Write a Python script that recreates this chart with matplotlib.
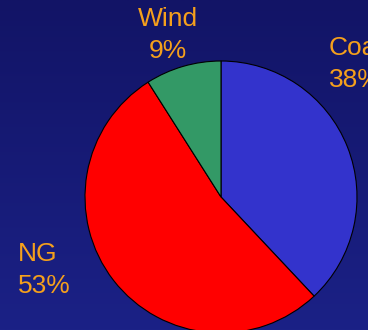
import matplotlib
matplotlib.use("Agg")
import matplotlib.pyplot as plt
import numpy as np
from matplotlib.colors import LinearSegmentedColormap

labels = ["Coal", "NG", "Wind"]
values = [38, 53, 9]
colors = ["#3333cc", "#ff0000", "#339966"]

W, H = 368, 330
fig = plt.figure(figsize=(W / 100, H / 100), dpi=100)
ax = fig.add_axes([0, 0, 1, 1])
ax.set_xlim(0, W)
ax.set_ylim(0, H)
ax.set_aspect("equal")
ax.axis("off")

cmap = LinearSegmentedColormap.from_list("bg", ["#1b2186", "#121466"])
grad = np.linspace(0, 1, 256).reshape(-1, 1)
ax.imshow(grad, cmap=cmap, extent=[0, W, 0, H], origin="lower", aspect="auto", zorder=0)

cx, cy, r = 221, H - 197, 136
ax.pie(values, colors=colors, startangle=90, counterclock=False,
       center=(cx, cy), radius=r, frame=True,
       wedgeprops=dict(edgecolor="black", linewidth=0.8))
ax.set_xlim(0, W)
ax.set_ylim(0, H)
ax.axis("off")

tc = "#f5a01c"
fs = 19
fam = "Liberation Sans"
ls = 1.38
ax.text(168, H - 35, "Wind\n9%", ha="center", va="center", color=tc, fontsize=fs, family=fam, linespacing=ls)
ax.text(329, H - 64, "Coal\n38%", ha="left", va="center", color=tc, fontsize=fs, family=fam, linespacing=ls)
ax.text(18, H - 270, "NG\n53%", ha="left", va="center", color=tc, fontsize=fs, family=fam, linespacing=ls)

fig.savefig("out.png", dpi=100)
